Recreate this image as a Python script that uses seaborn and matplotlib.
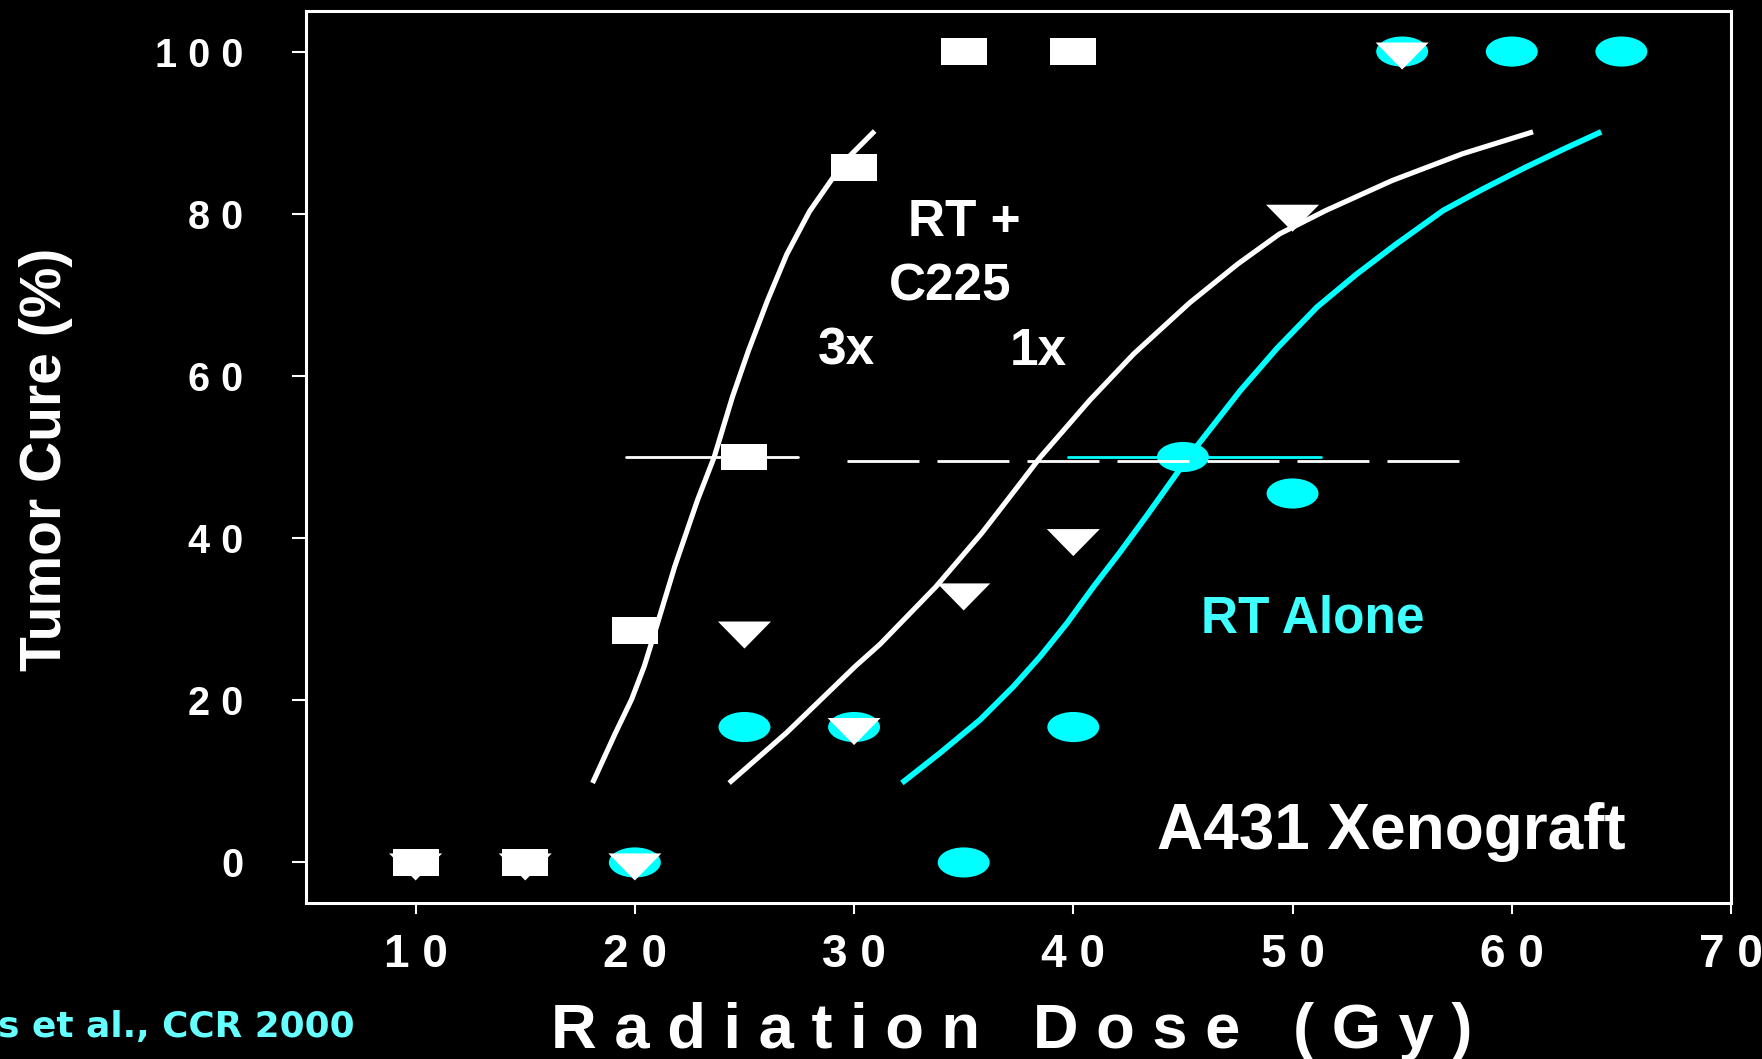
import numpy as np
import matplotlib
matplotlib.use("Agg")
import matplotlib.pyplot as plt
from matplotlib.path import Path
import seaborn as sns

# ---------------- data ----------------
dose_3x = [10, 15, 20, 25, 30, 35, 40]
cure_3x = [0, 0, 28.6, 50, 85.7, 100, 100]

dose_1x = [10, 15, 20, 25, 30, 35, 40, 50, 55]
cure_1x = [0, 0, 0, 28.6, 16.7, 33.3, 40, 80, 100]

dose_rt = [20, 25, 30, 35, 40, 45, 50, 55, 60, 65]
cure_rt = [0, 16.7, 16.7, 0, 16.7, 50, 45.5, 100, 100, 100]

# fitted curves
fit3x_x = [18.07, 19.12, 19.85, 20.43, 20.90, 21.82, 22.86, 23.62, 24.45, 25.18, 26.05, 26.93, 27.97, 29.00, 29.72, 30.94]
fit3x_y = [9.8, 16.0, 20.1, 24.2, 28.3, 36.5, 44.7, 50.0, 57.4, 63.1, 69.3, 75.0, 80.3, 84.3, 86.9, 90.2]

fit1x_x = [24.30, 26.92, 30.06, 31.18, 33.73, 35.82, 37.45, 38.50, 40.75, 42.75, 45.30, 47.50, 49.40, 51.52, 54.55, 57.76, 60.97]
fit1x_y = [9.8, 16.0, 24.2, 26.9, 34.0, 40.6, 46.3, 50.0, 57.0, 62.7, 69.0, 73.8, 77.5, 80.4, 84.1, 87.4, 90.1]

fitrt_x = [32.18, 33.92, 35.75, 37.27, 38.49, 39.71, 40.92, 42.14, 43.36, 44.73, 45.25, 47.62,
           49.29, 51.12, 52.90, 54.70, 56.87, 58.65, 60.61, 62.39, 64.08]
fitrt_y = [9.8, 13.5, 17.6, 21.7, 25.4, 29.5, 34.0, 38.3, 42.8, 48.0, 50.0, 58.2,
           63.4, 68.5, 72.5, 76.2, 80.4, 83.0, 85.7, 88.0, 90.1]

# 50 % reference lines
ref_dash_x = [29.67, 57.69]
ref_dash_y = [49.5, 49.5]
ref_3x_x = [19.59, 27.44]
ref_3x_y = [50.0, 50.0]
ref_rt_x = [39.78, 51.30]
ref_rt_y = [50.0, 50.0]

xticks = [10, 20, 30, 40, 50, 60, 70]
xticklabels = ["1 0", "2 0", "3 0", "4 0", "5 0", "6 0", "7 0"]
yticks = [0, 20, 40, 60, 80, 100]
yticklabels = ["0", "2 0", "4 0", "6 0", "8 0", "1 0 0"]

# ---------------- style ----------------
sns.set_style("dark", rc={"axes.facecolor": "black", "figure.facecolor": "black",
                          "axes.edgecolor": "white", "axes.grid": False})
plt.rcParams["font.family"] = ["Liberation Sans", "DejaVu Sans"]

CYAN = "#00FFFF"
W = "white"

fig = plt.figure(figsize=(17.62, 10.59), dpi=100)
fig.patch.set_facecolor("black")
ax = fig.add_axes([0.17367, 0.14731, 0.80874, 0.84230])
ax.set_facecolor("black")

# custom marker shapes
rect = Path(np.array([[-1, -0.58], [1, -0.58], [1, 0.58], [-1, 0.58], [-1, -0.58]]),
            [Path.MOVETO, Path.LINETO, Path.LINETO, Path.LINETO, Path.CLOSEPOLY])
uc = Path.unit_circle()
ellipse = Path(uc.vertices * np.array([1.0, 0.58]), uc.codes)
tri = Path(np.array([[-1, 0.34], [1, 0.34], [0, -0.68], [-1, 0.34]]),
           [Path.MOVETO, Path.LINETO, Path.LINETO, Path.CLOSEPOLY])

# curves
for xs, ys, c, lw in [(fit3x_x, fit3x_y, W, 3.7), (fit1x_x, fit1x_y, W, 3.7),
                      (fitrt_x, fitrt_y, CYAN, 4.1)]:
    sns.lineplot(x=xs, y=ys, sort=False, estimator=None, color=c, linewidth=lw,
                 solid_capstyle="butt", solid_joinstyle="round", ax=ax, zorder=2, legend=False)

# markers
sns.scatterplot(x=dose_rt, y=cure_rt, marker=ellipse, s=37.4 ** 2, color=CYAN,
                edgecolor="none", linewidth=0, ax=ax, zorder=3, legend=False)
sns.scatterplot(x=dose_3x, y=cure_3x, marker=rect, s=33.1 ** 2, color=W,
                edgecolor="none", linewidth=0, ax=ax, zorder=4, legend=False)
sns.scatterplot(x=dose_1x, y=cure_1x, marker=tri, s=38.2 ** 2, color=W,
                edgecolor="none", linewidth=0, ax=ax, zorder=5, legend=False)

# 50% lines
sns.lineplot(x=ref_dash_x, y=ref_dash_y, sort=False, estimator=None, color=W, linewidth=2,
             linestyle=(0, (25.9, 6.5)), ax=ax, zorder=6, legend=False)
sns.lineplot(x=ref_3x_x, y=ref_3x_y, sort=False, estimator=None, color=W, linewidth=2,
             ax=ax, zorder=3.5, legend=False)
sns.lineplot(x=ref_rt_x, y=ref_rt_y, sort=False, estimator=None, color=CYAN, linewidth=2,
             ax=ax, zorder=2.5, legend=False)

# axes
ax.set_xlim(5, 70)
ax.set_ylim(-5, 105)
ax.set_xticks(xticks)
ax.set_xticklabels(xticklabels, fontsize=33, fontweight="bold", color=W)
ax.set_yticks(yticks)
ax.set_yticklabels(yticklabels, fontsize=28.5, fontweight="bold", color=W)
ax.tick_params(axis="x", direction="out", length=8, width=1.5, color=W, pad=13.5,
               bottom=True, top=False)
ax.tick_params(axis="y", direction="out", length=10, width=1.5, color=W, pad=35,
               left=True, right=False)
for sp in ax.spines.values():
    sp.set_visible(True)
    sp.set_color(W)
    sp.set_linewidth(2.2)
ax.set_xlabel("")
ax.set_ylabel("")
ax.grid(False)

# annotations
ax.text(35.03, 77.2, "RT +", ha="center", va="baseline", fontsize=37, fontweight="bold", color=W)
ax.text(34.38, 69.3, "C225", ha="center", va="baseline", fontsize=37, fontweight="bold", color=W)
ax.text(29.63, 61.4, "3x", ha="center", va="baseline", fontsize=37, fontweight="bold", color=W)
ax.text(38.42, 61.4, "1x", ha="center", va="baseline", fontsize=37, fontweight="bold", color=W)
ax.text(50.92, 28.35, "RT Alone", ha="center", va="baseline", fontsize=37, fontweight="bold",
        color="#40FFFF")
ax.text(54.52, 1.69, "A431 Xenograft", ha="center", va="baseline", fontsize=46,
        fontweight="bold", color=W)

fig.text(60.7 / 1762, 1 - 459.5 / 1059, "Tumor Cure (%)", rotation=90, rotation_mode="anchor",
         ha="center", va="baseline", fontsize=41, fontweight="bold", color=W)
fig.text(1012 / 1762, 1 - 1048.3 / 1059, "R a d i a t i o n   D o s e   ( G y )",
         ha="center", va="baseline", fontsize=45.5, fontweight="bold", color=W)
fig.text(-2 / 1762, 1 - 1037.3 / 1059, "s et al., CCR 2000", ha="left", va="baseline",
         fontsize=25.8, fontweight="bold", color="#66FFFF", family=["DejaVu Sans"])

fig.savefig("out.png", dpi=100, facecolor="black")
